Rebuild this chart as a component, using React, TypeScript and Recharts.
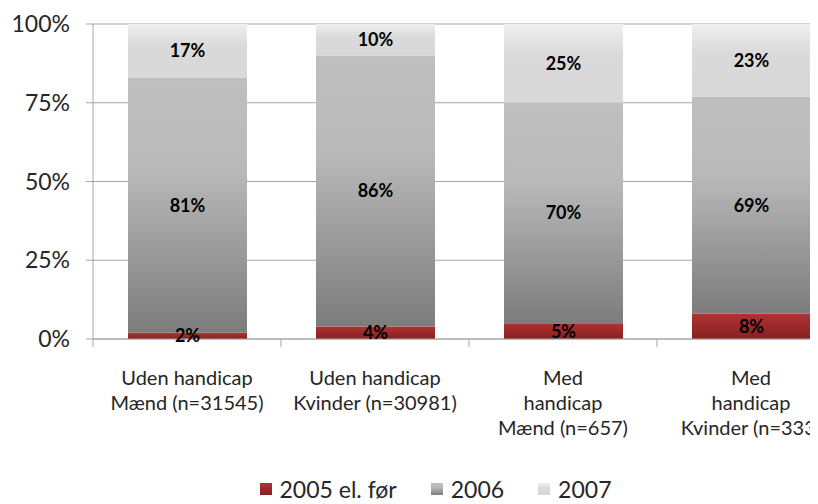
import React from 'react';
import { BarChart, Bar, XAxis, YAxis, CartesianGrid, Legend, LabelList } from 'recharts';

const categories = [
  'Uden handicap\nMænd (n=31545)',
  'Uden handicap\nKvinder (n=30981)',
  'Med\nhandicap\nMænd (n=657)',
  'Med\nhandicap\nKvinder (n=333)',
];
const before2005 = [2, 4, 5, 8];
const year2006 = [81, 86, 70, 69];
const year2007 = [17, 10, 25, 23];
const yTicks = [0, 25, 50, 75, 100];

const seriesNames = ['2005 el. før', '2006', '2007'];

const data = categories.map((name, i) => ({
  name,
  a: before2005[i],
  b: year2006[i],
  c: year2007[i],
}));

const Y_AXIS_WIDTH = 85;
// half of one category band (plot is 752px wide, 4 categories)
const HALF_BAND = 94;

const CategoryTick = (props: any) => {
  const { x, y, payload } = props;
  const lines = String(payload.value).split('\n');
  return (
    <text x={x} y={y} textAnchor="middle" fill="#262626" fontSize={20}>
      {lines.map((l, k) => (
        <tspan key={k} x={x} dy={k === 0 ? 38 : 25}>
          {l}
        </tspan>
      ))}
    </text>
  );
};

const LegendBox = (props: any) => {
  const { payload } = props;
  return (
    <div style={{ display: 'flex', justifyContent: 'center', alignItems: 'center', fontSize: 23, color: '#262626', paddingLeft: 18, paddingTop: 1 }}>
      {payload.map((p: any, i: number) => (
        <div key={i} style={{ display: 'flex', alignItems: 'center', marginRight: i < payload.length - 1 ? 34 : 0 }}>
          <svg width={12} height={12} style={{ marginRight: 8 }}>
            <rect width={12} height={12} fill={p.color} />
          </svg>
          <span>{p.value}</span>
        </div>
      ))}
    </div>
  );
};

const App = () => {
  return (
    <div style={{ width: 810, height: 496, overflow: 'hidden', fontFamily: 'Lato, sans-serif' }}>
      <BarChart
        width={860}
        height={496}
        data={data}
        margin={{ top: 16, right: 23, left: 0, bottom: 0 }}
        barSize={119}
      >
        <defs>
          <linearGradient id="g2005" x1="0" y1="0" x2="0" y2="1">
            <stop offset="0%" stopColor="#b03232" />
            <stop offset="100%" stopColor="#862020" />
          </linearGradient>
          <linearGradient id="g2006" x1="0" y1="0" x2="0" y2="1">
            <stop offset="0%" stopColor="#bfbfbf" />
            <stop offset="35%" stopColor="#bababa" />
            <stop offset="100%" stopColor="#7c7c7c" />
          </linearGradient>
          <linearGradient id="g2007" x1="0" y1="0" x2="0" y2="1">
            <stop offset="0%" stopColor="#efefef" />
            <stop offset="40%" stopColor="#dadada" />
            <stop offset="100%" stopColor="#d8d8d8" />
          </linearGradient>
        </defs>
        <CartesianGrid vertical={false} stroke="#a6a6a6" />
        <XAxis
          dataKey="name"
          interval={0}
          height={135}
          stroke="#a6a6a6"
          tickSize={8}
          tickMargin={0}
          tickLine={{ stroke: '#a6a6a6', transform: `translate(${-HALF_BAND} 0)` }}
          tick={<CategoryTick />}
        />
        <YAxis
          width={Y_AXIS_WIDTH}
          domain={[0, 100]}
          ticks={yTicks}
          tickFormatter={(v) => `${v}%`}
          tick={{ fill: '#262626', fontSize: 23 }}
          tickSize={7}
          tickMargin={16}
          stroke="#a6a6a6"
        />
        <Legend content={<LegendBox />} height={30} verticalAlign="bottom" />
        <Bar dataKey="a" name={seriesNames[0]} stackId="s" fill="url(#g2005)" isAnimationActive={false}>
          <LabelList dataKey="a" position="center" formatter={(v: any) => `${v}%`} fill="#000" fontSize={18} fontWeight="bold" />
        </Bar>
        <Bar dataKey="b" name={seriesNames[1]} stackId="s" fill="url(#g2006)" isAnimationActive={false}>
          <LabelList dataKey="b" position="center" formatter={(v: any) => `${v}%`} fill="#000" fontSize={18} fontWeight="bold" />
        </Bar>
        <Bar dataKey="c" name={seriesNames[2]} stackId="s" fill="url(#g2007)" isAnimationActive={false}>
          <LabelList dataKey="c" position="center" formatter={(v: any) => `${v}%`} fill="#000" fontSize={18} fontWeight="bold" />
        </Bar>
      </BarChart>
    </div>
  );
};

export default App;
